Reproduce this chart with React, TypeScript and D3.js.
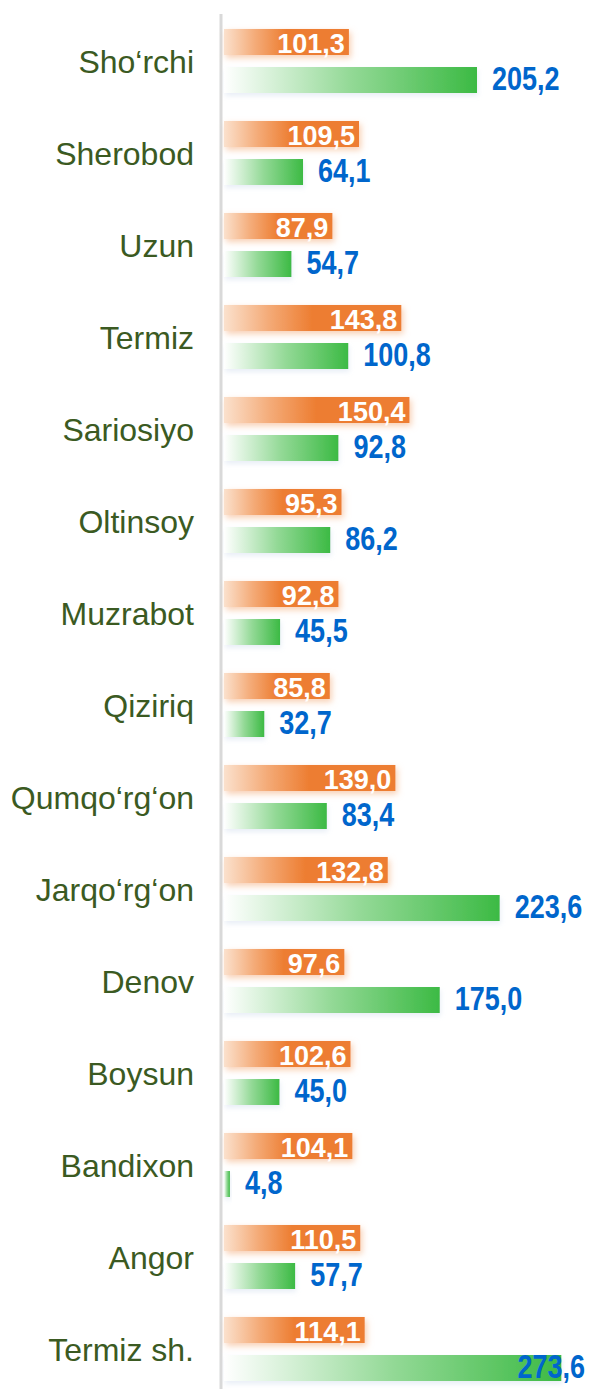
import React, { useEffect, useRef } from 'react';
import * as d3 from 'd3';

const categories = [
  'Sho‘rchi', 'Sherobod', 'Uzun', 'Termiz', 'Sariosiyo', 'Oltinsoy', 'Muzrabot', 'Qiziriq',
  'Qumqo‘rg‘on', 'Jarqo‘rg‘on', 'Denov', 'Boysun', 'Bandixon', 'Angor', 'Termiz sh.',
];
const orangeValues = [101.3, 109.5, 87.9, 143.8, 150.4, 95.3, 92.8, 85.8, 139.0, 132.8, 97.6, 102.6, 104.1, 110.5, 114.1];
const greenValues = [205.2, 64.1, 54.7, 100.8, 92.8, 86.2, 45.5, 32.7, 83.4, 223.6, 175.0, 45.0, 4.8, 57.7, 273.6];
const seriesKeys = ['orange', 'green'];

const WIDTH = 591;
const HEIGHT = 1389;
const FONT = '"Liberation Sans", Arial, sans-serif';

export default function App() {
  const svgRef = useRef<SVGSVGElement>(null);

  useEffect(() => {
    document.body.style.margin = '0';
    if (!svgRef.current) return;
    const svg = d3.select(svgRef.current);
    svg.selectAll('*').remove();

    const fmt = (v: number) => d3.format('.1f')(v).replace('.', ',');

    const x = d3.scaleLinear().domain([0, 280]).range([224, 224 + 280 * 1.233]);
    const y = d3.scaleBand().domain(categories).range([15, 1395]).padding(0);
    const inner = d3.scaleBand().domain(seriesKeys).range([0, y.bandwidth()])
      .paddingInner(0.316).paddingOuter(0.368);

    const defs = svg.append('defs');
    const og = defs.append('linearGradient').attr('id', 'gOrange').attr('x1', 0).attr('x2', 1).attr('y1', 0).attr('y2', 0);
    og.append('stop').attr('offset', '0%').attr('stop-color', '#fbe1cd');
    og.append('stop').attr('offset', '25%').attr('stop-color', '#f4ab78');
    og.append('stop').attr('offset', '50%').attr('stop-color', '#ed7d31');
    og.append('stop').attr('offset', '100%').attr('stop-color', '#ed7d31');

    const gg = defs.append('linearGradient').attr('id', 'gGreen').attr('x1', 0).attr('x2', 1).attr('y1', 0).attr('y2', 0);
    gg.append('stop').attr('offset', '0%').attr('stop-color', '#ffffff');
    gg.append('stop').attr('offset', '50%').attr('stop-color', '#93d996');
    gg.append('stop').attr('offset', '100%').attr('stop-color', '#3cba44');

    const glow = defs.append('filter').attr('id', 'glow').attr('x', '-20%').attr('y', '-50%').attr('width', '140%').attr('height', '200%');
    glow.append('feGaussianBlur').attr('in', 'SourceAlpha').attr('stdDeviation', 3).attr('result', 'blur');
    glow.append('feOffset').attr('in', 'blur').attr('dx', 2).attr('dy', 3).attr('result', 'off');
    glow.append('feFlood').attr('flood-color', '#f4b183').attr('flood-opacity', 0.6);
    glow.append('feComposite').attr('in2', 'off').attr('operator', 'in').attr('result', 'shadow');
    const gm = glow.append('feMerge');
    gm.append('feMergeNode').attr('in', 'shadow');
    gm.append('feMergeNode').attr('in', 'SourceGraphic');

    const shade = defs.append('filter').attr('id', 'shade').attr('x', '-20%').attr('y', '-50%').attr('width', '140%').attr('height', '200%');
    shade.append('feGaussianBlur').attr('in', 'SourceAlpha').attr('stdDeviation', 2.5).attr('result', 'blur');
    shade.append('feOffset').attr('in', 'blur').attr('dx', 1).attr('dy', 3).attr('result', 'off');
    shade.append('feFlood').attr('flood-color', '#c9d6ea').attr('flood-opacity', 0.4);
    shade.append('feComposite').attr('in2', 'off').attr('operator', 'in').attr('result', 'shadow');
    const sm = shade.append('feMerge');
    sm.append('feMergeNode').attr('in', 'shadow');
    sm.append('feMergeNode').attr('in', 'SourceGraphic');

    const rows = categories.map((c, i) => ({ c, o: orangeValues[i], g: greenValues[i] }));

    // axis line
    svg.append('line')
      .attr('x1', 221).attr('x2', 221)
      .attr('y1', 14).attr('y2', HEIGHT)
      .attr('stroke', '#d9d9d9').attr('stroke-width', 3);

    // category labels
    svg.selectAll('.cat')
      .data(rows)
      .enter()
      .append('text')
      .attr('x', 194)
      .attr('y', d => (y(d.c) || 0) + y.bandwidth() / 2 + 12)
      .attr('text-anchor', 'end')
      .attr('font-family', FONT)
      .attr('font-size', 32)
      .attr('fill', '#3b5a22')
      .text(d => d.c);

    // orange bars
    svg.selectAll('.ob')
      .data(rows)
      .enter()
      .append('rect')
      .attr('x', x(0))
      .attr('y', d => (y(d.c) || 0) + (inner('orange') || 0))
      .attr('width', d => x(d.o) - x(0))
      .attr('height', inner.bandwidth())
      .attr('fill', 'url(#gOrange)')
      .attr('filter', 'url(#glow)');

    // green bars
    svg.selectAll('.gb')
      .data(rows)
      .enter()
      .append('rect')
      .attr('x', x(0))
      .attr('y', d => (y(d.c) || 0) + (inner('green') || 0))
      .attr('width', d => x(d.g) - x(0))
      .attr('height', inner.bandwidth())
      .attr('fill', 'url(#gGreen)')
      .attr('filter', 'url(#shade)');

    // orange values (white, inside)
    svg.selectAll('.ov')
      .data(rows)
      .enter()
      .append('text')
      .attr('x', d => x(d.o) - 4)
      .attr('y', d => (y(d.c) || 0) + (inner('orange') || 0) + inner.bandwidth() / 2 + 11)
      .attr('text-anchor', 'end')
      .attr('font-family', FONT)
      .attr('font-weight', 'bold')
      .attr('font-size', 27)
      .attr('fill', '#ffffff')
      .text(d => fmt(d.o));

    // green values (blue, outside, clamped to right edge, vertically stretched)
    svg.selectAll('.gv')
      .data(rows)
      .enter()
      .append('text')
      .attr('font-family', FONT)
      .attr('font-weight', 'bold')
      .attr('font-size', 27)
      .attr('fill', '#0066cc')
      .text(d => fmt(d.g))
      .attr('transform', function (d) {
        const w = (this as SVGTextElement).getComputedTextLength();
        const tx = Math.min(x(d.g) + 15, 585 - w);
        const ty = (y(d.c) || 0) + (inner('green') || 0) + inner.bandwidth() / 2 + 10;
        return `translate(${tx},${ty}) scale(1,1.22)`;
      });
  }, []);

  return (
    <div style={{ width: WIDTH, height: HEIGHT, background: '#fff' }}>
      <svg ref={svgRef} width={WIDTH} height={HEIGHT} style={{ display: 'block' }} />
    </div>
  );
}
